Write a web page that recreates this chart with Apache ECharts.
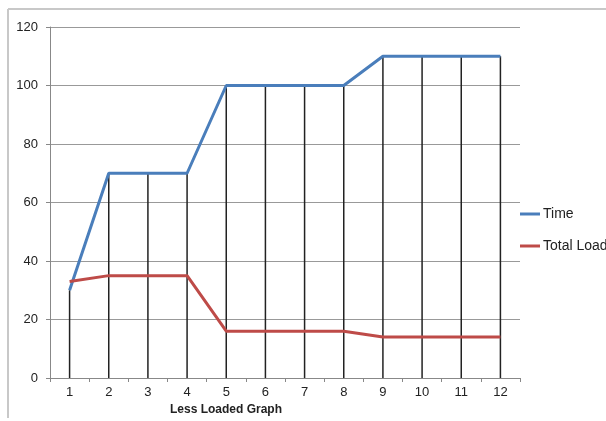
<!DOCTYPE html>
<html>
<head>
<meta charset="utf-8">
<script src="https://cdn.jsdelivr.net/npm/echarts@6/dist/echarts.min.js"></script>
<style>html,body{margin:0;padding:0;background:#fff;}#c{width:606px;height:421px;}</style>
</head>
<body>
<div id="c"></div>
<script>
const categories = ['1','2','3','4','5','6','7','8','9','10','11','12'];
const timeValues = [30,70,70,70,100,100,100,100,110,110,110,110];
const totalLoadValues = [33,35,35,35,16,16,16,16,14,14,14,14];
const xAxisName = 'Less Loaded Graph';

const chart = echarts.init(document.getElementById('c'), null, {renderer:'canvas'});
chart.setOption({
  backgroundColor: '#fff',
  animation: false,
  graphic: [
    {type:'line', shape:{x1:8,y1:9,x2:606,y2:9}, style:{stroke:'#c8c8c8', lineWidth:2}},
    {type:'line', shape:{x1:8,y1:9,x2:8,y2:418}, style:{stroke:'#c8c8c8', lineWidth:2}}
  ],
  grid: {left:50, right:86, top:27, bottom:43},
  legend: {
    orient:'vertical', left:520, top:207, itemGap:18, padding:0,
    icon:'rect', itemWidth:20, itemHeight:3,
    textStyle:{fontFamily:'Liberation Sans, sans-serif', fontSize:14, color:'#222', padding:[0,0,0,-2]},
    data:['Time','Total Load']
  },
  xAxis: {
    type:'category', data:categories, boundaryGap:true,
    name:xAxisName, nameLocation:'middle', nameGap:22,
    nameTextStyle:{fontFamily:'Liberation Sans, sans-serif', fontWeight:'bold', fontSize:12, color:'#222', padding:[0,118,0,0]},
    axisLine:{lineStyle:{color:'#888', width:1}},
    axisTick:{show:true, length:4, lineStyle:{color:'#888'}},
    axisLabel:{fontFamily:'Liberation Sans, sans-serif', fontSize:13, color:'#222', margin:8},
    splitLine:{show:false}
  },
  yAxis: {
    type:'value', min:0, max:120, interval:20,
    axisLine:{show:true, lineStyle:{color:'#888'}},
    axisTick:{show:true, length:4, lineStyle:{color:'#888'}},
    axisLabel:{fontFamily:'Liberation Sans, sans-serif', fontSize:13, color:'#222', margin:12},
    splitLine:{lineStyle:{color:'#999', width:1}}
  },
  series: [
    {name:'drop', type:'bar', data:timeValues, barWidth:1.5, itemStyle:{color:'#222'}, z:1, silent:true},
    {name:'Time', type:'line', data:timeValues, symbol:'none', lineStyle:{color:'#4a7ebb', width:3}, itemStyle:{color:'#4a7ebb'}, z:3},
    {name:'Total Load', type:'line', data:totalLoadValues, symbol:'none', lineStyle:{color:'#be4b48', width:3}, itemStyle:{color:'#be4b48'}, z:4}
  ]
});
</script>
</body>
</html>
